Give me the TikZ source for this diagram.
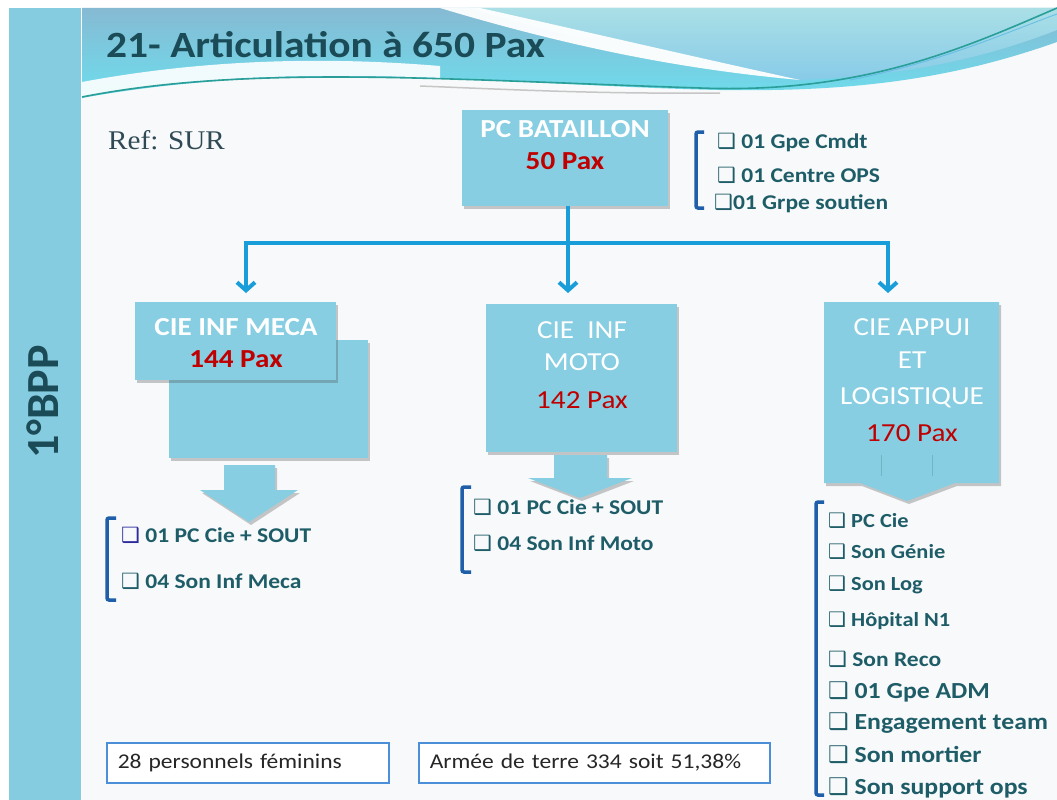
\documentclass[tikz,border=0pt]{standalone}
\usepackage{fontspec}
\setmainfont{Carlito}[FakeStretch=1.12]
\newfontfamily\plainsans{Carlito}
\newfontfamily\dv{DejaVu Sans}
\newfontfamily\refserif{Liberation Serif}[FakeStretch=1.08]
\usetikzlibrary{shadows,arrows.meta}

\definecolor{boxblue}{HTML}{87CEE2}
\definecolor{bandblue}{HTML}{86CCE0}
\definecolor{paxred}{HTML}{C00000}
\definecolor{tealtext}{HTML}{1E5D68}
\definecolor{titletext}{HTML}{1A4B57}
\definecolor{linkblue}{HTML}{1A9EDA}
\definecolor{brackblue}{HTML}{1F5EA8}
\definecolor{frameblue}{HTML}{4A8FD8}
\definecolor{pagebg}{HTML}{F7F9FA}
\definecolor{hdrtop}{HTML}{86BAD3}
\definecolor{hdrbot}{HTML}{6DDDED}
\definecolor{hdrrtop}{HTML}{AADFE6}
\definecolor{hdrrbot}{HTML}{88CBE8}
\definecolor{swline}{HTML}{2A9E98}
\definecolor{refgray}{HTML}{2F4A55}
\definecolor{cbblue}{HTML}{2B2B9E}
\definecolor{calloutline}{HTML}{70B4C8}

\newcommand\fsz[2]{\fontsize{#1}{#2}\selectfont}
\newcommand\cb{{\dv ❑}}

\tikzset{
  boxshade/.style={fill=boxblue, draw=none,
    drop shadow={shadow xshift=2pt, shadow yshift=-3pt, opacity=0.3, fill=black!70}},
  boxnode/.style={boxshade, inner sep=0pt, outer sep=0pt},
  wtxt/.style={anchor=base, text=white, inner sep=0pt},
  wbold/.style={wtxt, font=\bfseries\fsz{26}{30}},
  wreg/.style={wtxt, font=\fsz{26}{30}},
  redbold/.style={anchor=base, text=paxred, inner sep=0pt, font=\bfseries\fsz{26}{30}},
  redreg/.style={anchor=base, text=paxred, inner sep=0pt, font=\fsz{26}{30}},
  itemtxt/.style={anchor=base west, text=tealtext, inner sep=0pt, font=\bfseries\fsz{21}{25}},
  itemsmall/.style={itemtxt, font=\bfseries\fsz{20}{24}},
  itembig/.style={itemtxt, font=\bfseries\fsz{23}{27}},
  bracket/.style={draw=brackblue, line width=3.5pt, rounded corners=2pt},
  link/.style={draw=linkblue, line width=4pt},
  linkarrow/.style={link, -{Straight Barb[length=8pt, width=18pt]}},
  framebox/.style={draw=frameblue, line width=1.6pt, fill=white, anchor=west,
    minimum height=40pt, inner xsep=11pt, inner ysep=0pt, align=left,
    text=black!85, font=\fsz{21}{25}}
}

\begin{document}
\begin{tikzpicture}[x=1pt, y=-1pt]
\useasboundingbox (0,0) rectangle (1057,800);
\fill[white] (0,0) rectangle (1057,800);
\fill[pagebg] (82,8) rectangle (1057,800);
\fill[bandblue] (9,8) rectangle (81,800);

% header decoration
\shade[top color=hdrtop, bottom color=hdrbot]
  (82,8) -- (1057,8) -- (1057,42)
  .. controls (950,80) and (850,92) .. (720,90)
  .. controls (520,86) and (300,58) .. (82,98) -- cycle;
\shade[top color=hdrrtop, bottom color=hdrrbot]
  (470,8) -- (1057,8) -- (1057,30)
  .. controls (980,60) and (900,76) .. (800,80)
  .. controls (690,64) and (580,42) .. cycle;
\fill[white, opacity=0.95]
  (440,8) -- (480,8)
  .. controls (570,28) and (690,56) .. (800,80)
  .. controls (690,70) and (580,50) .. (440,8) -- cycle;
\fill[white, opacity=0.9]
  (82,82) .. controls (200,60) and (320,56) .. (440,66)
  -- (440,78) .. controls (300,72) and (180,78) .. (82,97) -- cycle;
\draw[gray!45, line width=1.5pt]
  (420,86) .. controls (520,90) and (600,94) .. (720,93);
\draw[swline, line width=1.6pt]
  (82,97) .. controls (250,64) and (450,80) .. (700,88)
  .. controls (860,94) and (960,50) .. (1057,8);
\draw[linkblue!70, line width=1pt, opacity=0.8]
  (850,80) .. controls (940,62) and (1000,35) .. (1057,14);

\node[anchor=base west, text=titletext, inner sep=0pt,
  font=\bfseries\fsz{37}{40}] (title) at (106,58) {21- Articulation à 650 Pax};

\node[anchor=base, rotate=90, text=titletext, inner sep=0pt,
  font=\plainsans\bfseries\fsz{46}{50}] (bpp) at (58,402) {1°BPP};

\node[anchor=base west, text=refgray, inner sep=0pt,
  font=\refserif\fsz{27}{30}] (ref) at (108,149) {Ref: SUR};

% PC BATAILLON
\node[boxnode, minimum width=206pt, minimum height=96pt] (pc) at (565,158) {};
\node[wbold] (pct) at (565,137) {PC BATAILLON};
\node[redbold] (pcp) at (565,169) {50 Pax};

\draw[bracket] (704,132) -- (696,132) -- (696,208) -- (704,208);
\node[itemtxt] (pc1) at (717,148) {\cb\ 01 Gpe Cmdt};
\node[itemtxt] (pc2) at (717,182) {\cb\ 01 Centre OPS};
\node[itemtxt] (pc3) at (714,209) {\cb01 Grpe soutien};

% connectors
\coordinate (j0) at (568,243);
\coordinate (jl) at (246,243);
\coordinate (jr) at (888,243);
\coordinate (tl) at (246,293);
\coordinate (tm) at (568,293);
\coordinate (tr) at (888,293);
\draw[link] (pc.south -| j0) -- (j0);
\draw[link, line cap=rect] (jl) -- (jr);
\draw[linkarrow] (jl) -- (tl);
\draw[linkarrow] (j0) -- (tm);
\draw[linkarrow] (jr) -- (tr);

% CIE INF MECA
\node[boxnode, minimum width=199pt, minimum height=118pt] (mecab) at (268.5,399) {};
\node[boxnode, minimum width=201pt, minimum height=78pt] (meca) at (235.5,341) {};
\node[wbold] (mecat) at (236,335) {CIE INF MECA};
\node[redbold] (mecap) at (236,367) {144 Pax};
\path[boxshade] (224,465) -- (275,465) -- (275,490) -- (298,490) -- (249,522)
  -- (200,490) -- (224,490) -- cycle;

\draw[bracket] (116,518) -- (107,518) -- (107,600) -- (116,600);
\node[itemtxt] (me1) at (121,542) {\textcolor{cbblue}{\cb}\ 01 PC Cie + SOUT};
\node[itemtxt] (me2) at (121,588) {\cb\ 04 Son Inf Meca};

% CIE INF MOTO
\node[boxnode, minimum width=191pt, minimum height=148pt] (moto) at (581.5,378) {};
\node[wreg] (motot1) at (582,338) {CIE\ \ INF};
\node[wreg] (motot2) at (582,370) {MOTO};
\node[redreg] (motop) at (582,408) {142 Pax};
\path[boxshade] (554,455) -- (607,455) -- (607,478) -- (632,478) -- (580,498)
  -- (528,478) -- (554,478) -- cycle;

\draw[bracket] (471,487) -- (462,487) -- (462,572) -- (471,572);
\node[itemtxt] (mo1) at (473,514) {\cb\ 01 PC Cie + SOUT};
\node[itemtxt] (mo2) at (473,550) {\cb\ 04 Son Inf Moto};

% CIE APPUI ET LOGISTIQUE
\path[boxshade] (824,302) -- (999,302) -- (999,483) -- (955,483) -- (907,501)
  -- (860,483) -- (824,483) -- cycle;
\draw[calloutline, line width=1pt] (881,455) -- (881,476);
\draw[calloutline, line width=1pt] (932,455) -- (932,476);
\node[wreg] (app1) at (912,335) {CIE APPUI};
\node[wreg] (app2) at (912,368) {ET};
\node[wreg] (app3) at (912,404) {LOGISTIQUE};
\node[redreg] (appp) at (912,441) {170 Pax};

\draw[bracket] (824,502) -- (816,502) -- (816,795) -- (824,795);
\node[itemsmall] (ap1) at (828,527) {\cb\ PC Cie};
\node[itemsmall] (ap2) at (828,558) {\cb\ Son Génie};
\node[itemsmall] (ap3) at (828,590) {\cb\ Son Log};
\node[itemsmall] (ap4) at (828,626) {\cb\ Hôpital N1};
\node[itemtxt] (ap5) at (828,666) {\cb\ Son Reco};
\node[itembig] (ap6) at (828,698) {\cb\ 01 Gpe ADM};
\node[itembig] (ap7) at (828,729) {\cb\ Engagement team};
\node[itembig] (ap8) at (828,762) {\cb\ Son mortier};
\node[itembig] (ap9) at (828,794) {\cb\ Son support ops};

% bottom boxes
\node[framebox, text width=260pt] (fem) at (106,763) {28 personnels féminins};
\node[framebox, text width=329pt] (adt) at (418,763) {Armée de terre 334 soit 51,38\%};
\end{tikzpicture}
\end{document}
